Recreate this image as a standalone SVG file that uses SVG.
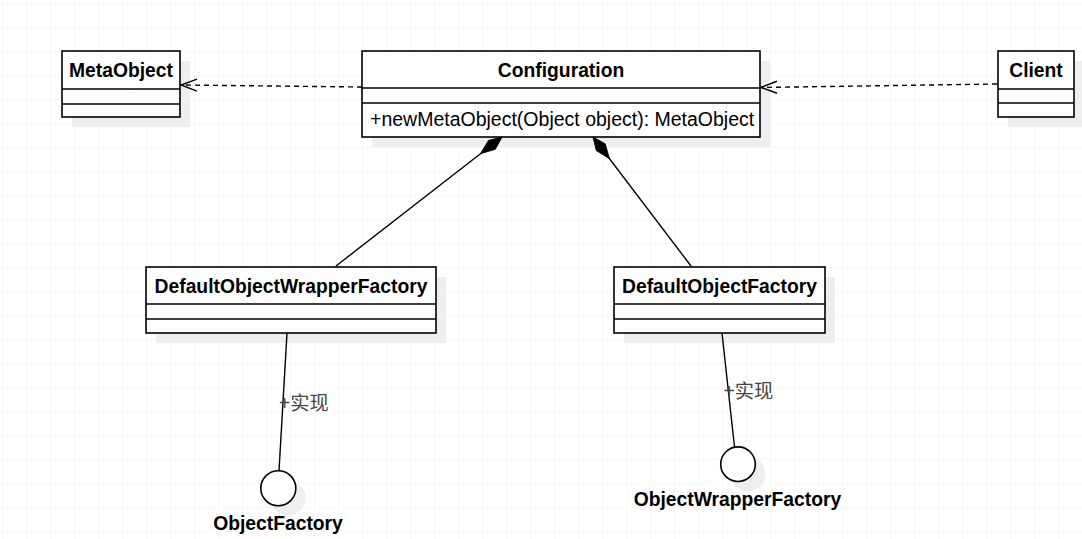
<svg xmlns="http://www.w3.org/2000/svg" width="1082" height="539" viewBox="0 0 1082 539">
<defs>
<pattern id="grid" x="2" y="3" width="24" height="24" patternUnits="userSpaceOnUse">
<path d="M0,0 H24 M0,0 V24" fill="none" stroke="#efefef" stroke-width="1"/>
</pattern>
<marker id="open" markerUnits="userSpaceOnUse" markerWidth="40" markerHeight="40" refX="0" refY="0" viewBox="-20 -20 40 40" orient="auto" overflow="visible">
<path d="M-16,-6 L0,0 L-16,6" fill="none" stroke="#000" stroke-width="1.4" stroke-dasharray="none"/>
</marker>
<marker id="diamond" markerUnits="userSpaceOnUse" markerWidth="40" markerHeight="40" refX="0" refY="0" viewBox="-5 -20 50 40" orient="auto" overflow="visible">
<path d="M0,0 L16,-7 L34,0 L16,7 Z" fill="#000" stroke="#000" stroke-width="1"/>
</marker>
</defs>
<style>
.box{fill:#fff;stroke:#000;stroke-width:1.6}
.shadow{fill:#eeeeee;stroke:none}
.div{stroke:#000;stroke-width:1.6}
.title{font-family:"Liberation Sans",Arial,sans-serif;font-weight:bold;font-size:19.3px;fill:#000}
.member{font-family:"Liberation Sans",Arial,sans-serif;font-size:19.5px;fill:#000}
.lbl{font-family:"Liberation Sans","Noto Sans CJK SC",sans-serif;font-size:19.3px;fill:#444}
.edge{fill:none;stroke:#000;stroke-width:1.4}
.dash{stroke-dasharray:5 4}
</style>
<rect width="1082" height="539" fill="#fff"/>
<rect width="1082" height="539" fill="url(#grid)"/>

<g id="MetaObject">
<rect class="shadow" x="72" y="61" width="118" height="66"/>
<rect class="box" x="62" y="51" width="118" height="66"/>
<line class="div" x1="62" y1="89" x2="180" y2="89"/>
<line class="div" x1="62" y1="104" x2="180" y2="104"/>
<text class="title" x="121" y="77" text-anchor="middle">MetaObject</text>
</g>

<g id="Configuration">
<rect class="shadow" x="372" y="61" width="398" height="86"/>
<rect class="box" x="362" y="51" width="398" height="86"/>
<line class="div" x1="362" y1="88" x2="760" y2="88"/>
<line class="div" x1="362" y1="103" x2="760" y2="103"/>
<text class="title" x="561" y="77" text-anchor="middle">Configuration</text>
<text class="member" x="370" y="126">+newMetaObject(Object object): MetaObject</text>
</g>

<g id="Client">
<rect class="shadow" x="1008" y="61" width="76" height="66"/>
<rect class="box" x="998" y="51" width="76" height="66"/>
<line class="div" x1="998" y1="89" x2="1074" y2="89"/>
<line class="div" x1="998" y1="103" x2="1074" y2="103"/>
<text class="title" x="1036" y="77" text-anchor="middle">Client</text>
</g>

<g id="DefaultObjectWrapperFactory">
<rect class="shadow" x="156" y="277" width="290" height="66"/>
<rect class="box" x="146" y="267" width="290" height="66"/>
<line class="div" x1="146" y1="304" x2="436" y2="304"/>
<line class="div" x1="146" y1="319" x2="436" y2="319"/>
<text class="title" x="291" y="293" text-anchor="middle">DefaultObjectWrapperFactory</text>
</g>

<g id="DefaultObjectFactory">
<rect class="shadow" x="624" y="277" width="211" height="66"/>
<rect class="box" x="614" y="267" width="211" height="66"/>
<line class="div" x1="614" y1="304" x2="825" y2="304"/>
<line class="div" x1="614" y1="319" x2="825" y2="319"/>
<text class="title" x="719.5" y="293" text-anchor="middle">DefaultObjectFactory</text>
</g>

<g id="ObjectFactory">
<circle class="shadow" cx="288" cy="498" r="17.5"/>
<circle class="box" cx="278.3" cy="488.3" r="17.5"/>
<text class="title" x="278" y="530" text-anchor="middle">ObjectFactory</text>
</g>

<g id="ObjectWrapperFactory">
<circle class="shadow" cx="748" cy="474" r="17.3"/>
<circle class="box" cx="738" cy="464.2" r="17.3"/>
<text class="title" x="737.5" y="506" text-anchor="middle">ObjectWrapperFactory</text>
</g>

<g id="connectors">
<path class="edge dash" d="M362,87 L181,85" marker-end="url(#open)"/>
<path class="edge dash" d="M997,84 L761,87.5" marker-end="url(#open)"/>
<path class="edge" d="M502,137 L336,266" marker-start="url(#diamond)"/>
<path class="edge" d="M593,137 L691,266" marker-start="url(#diamond)"/>
<path class="edge" d="M287,333 L279,470.8"/>
<path class="edge" d="M722,333 L734.5,447"/>
<text class="lbl" x="279" y="409.5">+实现</text>
<text class="lbl" x="723.5" y="397.7">+实现</text>
</g>
</svg>
